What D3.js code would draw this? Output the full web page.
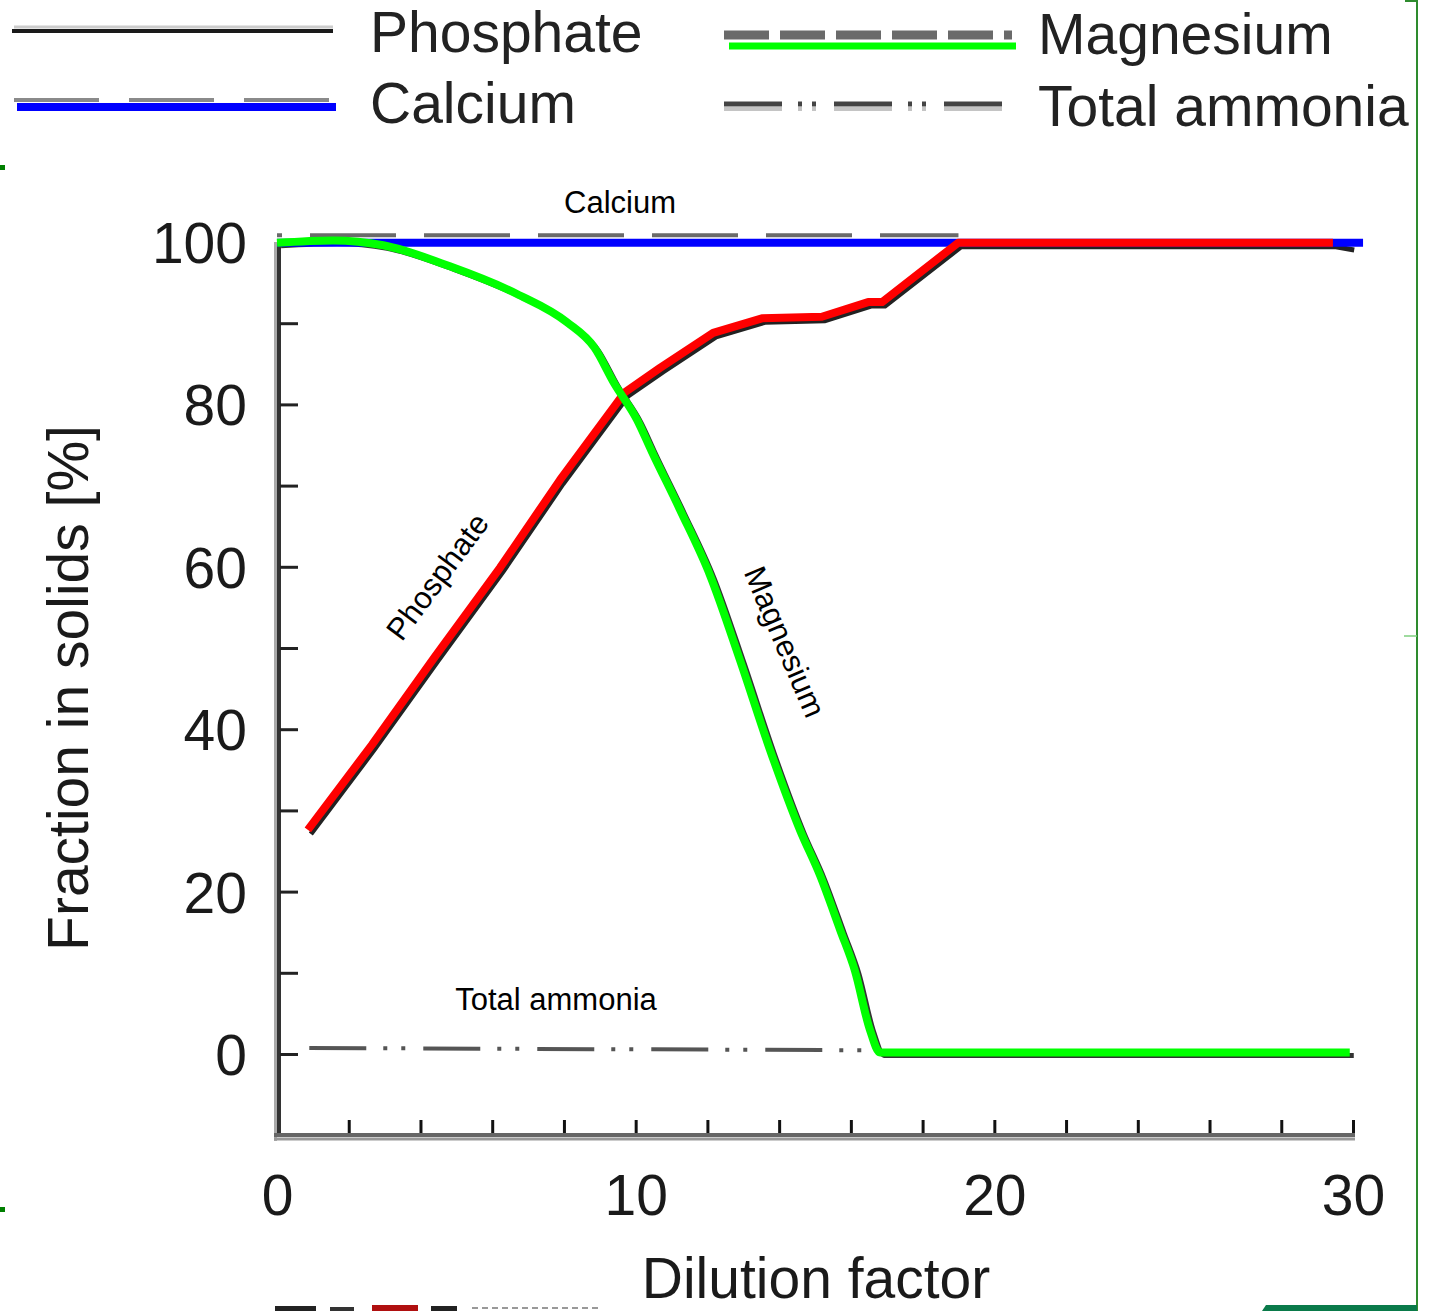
<!DOCTYPE html>
<html>
<head>
<meta charset="utf-8">
<script src="https://cdn.jsdelivr.net/npm/d3@7"></script>
<style>
  body { margin: 0; background: #fff; }
  svg { display: block; font-family: "Liberation Sans", Arial, sans-serif; }
</style>
</head>
<body>
<svg id="chart" width="1438" height="1311"></svg>
<script>
// dilution factor vs fraction in solids [%]
const phosphate = [[0.86, 27.6], [2.65, 38.1], [4.40, 48.9], [6.22, 59.9], [7.89, 70.7],
    [9.70, 81.5], [10.68, 84.5], [12.16, 88.8], [13.52, 90.6], [15.19, 90.8],
    [16.48, 92.6], [16.87, 92.6], [18.99, 99.9], [29.44, 99.9]]
const magnesium = [[0, 99.9], [1.56, 100.2], [2.96, 99.6], [4.82, 97.0], [6.69, 93.6],
    [8.09, 90.1], [8.85, 87.0], [9.40, 82.6], [10.04, 78.1], [10.45, 74.2],
    [11.24, 67.0], [12.07, 59.0], [12.91, 48.5], [13.75, 37.4], [14.58, 27.6],
    [15.14, 22.0], [15.70, 15.3], [16.11, 10.3], [16.53, 3.0], [16.81, 0.2], [29.91, 0.2]]
const calcium = [[0, 99.9], [30.28, 99.9]]
const calciumOrig = [[0, 100.6], [19.0, 100.6]]
const ammonia = [[0.9, 0.75], [16.8, 0.45]]

const xLabelTicks = [0, 10, 20, 30]
const yLabelTicks = [0, 20, 40, 60, 80, 100]

const legendItems = [
    { name: "Phosphate", col: 0, row: 0 },
    { name: "Calcium", col: 0, row: 1 },
    { name: "Magnesium", col: 1, row: 0 },
    { name: "Total ammonia", col: 1, row: 1 }
]

const svg = d3.select("#chart")

const x = d3.scaleLinear().domain([0, 30]).range([277, 1353])
const y = d3.scaleLinear().domain([-10, 100]).range([1135.2, 242])

const line = d3.line().x(d => x(d[0])).y(d => y(d[1]))
const smooth = d3.line().x(d => x(d[0])).y(d => y(d[1])).curve(d3.curveMonotoneX)

// ---- axes ----
// left axis: light stripe + dark line
svg.append("line").attr("x1", 275.5).attr("x2", 275.5).attr("y1", 242).attr("y2", 1141)
    .attr("stroke", "#aaa").attr("stroke-width", 3)
svg.append("line").attr("x1", 279).attr("x2", 279).attr("y1", 242).attr("y2", 1137)
    .attr("stroke", "#333").attr("stroke-width", 4)
// bottom axis
svg.append("line").attr("x1", 274).attr("x2", 1355).attr("y1", 1135).attr("y2", 1135)
    .attr("stroke", "#666").attr("stroke-width", 4)
svg.append("line").attr("x1", 274).attr("x2", 1355).attr("y1", 1139).attr("y2", 1139)
    .attr("stroke", "#999").attr("stroke-width", 3)

const yTicks = svg.append("g").attr("transform", "translate(280,0)")
    .call(d3.axisRight(y).tickValues(d3.range(0, 100, 10)).tickSize(18).tickFormat(""))
yTicks.select(".domain").remove()
yTicks.selectAll("line").attr("stroke", "#222").attr("stroke-width", 3)

const xTicks = svg.append("g").attr("transform", "translate(0,1133)")
    .call(d3.axisTop(x).tickValues(d3.range(2, 31, 2)).tickSize(13).tickFormat(""))
xTicks.select(".domain").remove()
xTicks.selectAll("line").attr("stroke", "#111").attr("stroke-width", 3)

const yLabels = svg.append("g").attr("transform", "translate(277,0)")
    .call(d3.axisLeft(y).tickValues(yLabelTicks).tickSize(0).tickPadding(30))
yLabels.select(".domain").remove()
yLabels.selectAll("text").attr("font-size", 57).attr("fill", "#1a1a1a")
    .attr("font-family", "Liberation Sans, Arial, sans-serif").attr("dy", "0.36em")

const xLabels = svg.append("g").attr("transform", "translate(0,1135)")
    .call(d3.axisBottom(x).tickValues(xLabelTicks).tickSize(0).tickPadding(40))
xLabels.select(".domain").remove()
xLabels.selectAll("text").attr("font-size", 57).attr("fill", "#1a1a1a")
    .attr("font-family", "Liberation Sans, Arial, sans-serif").attr("dy", "0.71em")

svg.append("text").attr("transform", "translate(88,688) rotate(-90)")
    .attr("text-anchor", "middle").attr("font-size", 57).attr("fill", "#1a1a1a")
    .text("Fraction in solids [%]")
svg.append("text").attr("x", 816).attr("y", 1298)
    .attr("text-anchor", "middle").attr("font-size", 57).attr("fill", "#1a1a1a")
    .text("Dilution factor")

// ---- original (grey) traces ----
svg.append("path").datum(calciumOrig).attr("d", line)
    .attr("fill", "none").attr("stroke", "#6a6a6a").attr("stroke-width", 4)
    .attr("stroke-dasharray", "86,28").attr("stroke-dashoffset", 81)
    .attr("transform", "translate(0,-2)")
svg.append("path").datum(ammonia).attr("d", line)
    .attr("fill", "none").attr("stroke", "#555").attr("stroke-width", 4)
    .attr("stroke-dasharray", "57,17,4,14,4,18")
svg.append("path").datum(phosphate.concat([[29.95, 99.5]])).attr("d", line)
    .attr("fill", "none").attr("stroke", "#222").attr("stroke-width", 5)
    .attr("transform", "translate(3,4)")
svg.append("path").datum(magnesium).attr("d", smooth)
    .attr("fill", "none").attr("stroke", "#333").attr("stroke-width", 5)
    .attr("transform", "translate(4,3)")

// ---- coloured traces ----
svg.append("path").datum(calcium).attr("d", line)
    .attr("fill", "none").attr("stroke", "#0000ff").attr("stroke-width", 8)
svg.append("path").datum(phosphate).attr("d", line)
    .attr("fill", "none").attr("stroke", "#ff0000").attr("stroke-width", 8)
    .attr("stroke-linejoin", "round")
svg.append("path").datum(magnesium).attr("d", smooth)
    .attr("fill", "none").attr("stroke", "#00ff00").attr("stroke-width", 8)

// ---- in-plot labels ----
svg.append("text").attr("x", 620).attr("y", 213).attr("text-anchor", "middle")
    .attr("font-size", 31).attr("fill", "#000").text("Calcium")
svg.append("text").attr("x", 556).attr("y", 1010).attr("text-anchor", "middle")
    .attr("font-size", 31).attr("fill", "#000").text("Total ammonia")
svg.append("text").attr("transform", "translate(446,583) rotate(-53.4)")
    .attr("text-anchor", "middle").attr("font-size", 31).attr("fill", "#000").text("Phosphate")
svg.append("text").attr("transform", "translate(775,646) rotate(66.8)")
    .attr("text-anchor", "middle").attr("font-size", 31).attr("fill", "#000").text("Magnesium")

// ---- legend ----
const legend = svg.append("g")
const textX = [370, 1038]
// phosphate: black solid, light line above
legend.append("line").attr("x1", 14).attr("x2", 333).attr("y1", 27).attr("y2", 27)
    .attr("stroke", "#ccc").attr("stroke-width", 3)
legend.append("line").attr("x1", 12).attr("x2", 333).attr("y1", 31).attr("y2", 31)
    .attr("stroke", "#1a1a1a").attr("stroke-width", 4)
// calcium: grey dashes over blue
legend.append("line").attr("x1", 14).attr("x2", 333).attr("y1", 100).attr("y2", 100)
    .attr("stroke", "#8a8a8a").attr("stroke-width", 4).attr("stroke-dasharray", "85,30")
legend.append("line").attr("x1", 17).attr("x2", 336).attr("y1", 107).attr("y2", 107)
    .attr("stroke", "#0000ff").attr("stroke-width", 8)
// magnesium: grey dashes over green
legend.append("line").attr("x1", 724).attr("x2", 1012).attr("y1", 35).attr("y2", 35)
    .attr("stroke", "#6a6a6a").attr("stroke-width", 9).attr("stroke-dasharray", "45,11")
legend.append("line").attr("x1", 729).attr("x2", 1016).attr("y1", 46).attr("y2", 46)
    .attr("stroke", "#00ff00").attr("stroke-width", 7)
// total ammonia: dash-dot-dot
legend.append("line").attr("x1", 724).attr("x2", 1010).attr("y1", 104).attr("y2", 104)
    .attr("stroke", "#444").attr("stroke-width", 5).attr("stroke-dasharray", "58,16,4,10,4,18")
legend.append("line").attr("x1", 724).attr("x2", 1010).attr("y1", 109).attr("y2", 109)
    .attr("stroke", "#c4c4c4").attr("stroke-width", 4).attr("stroke-dasharray", "58,16,4,10,4,18")

legend.selectAll("text.leg").data(legendItems).enter().append("text")
    .attr("class", "leg")
    .attr("x", d => textX[d.col])
    .attr("y", d => d.row === 0 ? (d.col === 0 ? 52 : 54) : (d.col === 0 ? 123 : 126))
    .attr("font-size", 57).attr("fill", "#222")
    .text(d => d.name)

// ---- frame remnants ----
svg.append("line").attr("x1", 1417).attr("x2", 1417).attr("y1", 0).attr("y2", 1311)
    .attr("stroke", "#2e8b2e").attr("stroke-width", 2)
svg.append("line").attr("x1", 1405).attr("x2", 1417).attr("y1", 1).attr("y2", 1)
    .attr("stroke", "#2e8b2e").attr("stroke-width", 2)
svg.append("line").attr("x1", 1404).attr("x2", 1417).attr("y1", 636).attr("y2", 636)
    .attr("stroke", "#7fcf7f").attr("stroke-width", 1.5)
svg.append("rect").attr("x", 0).attr("y", 165).attr("width", 5).attr("height", 5).attr("fill", "#007f00")
svg.append("rect").attr("x", 0).attr("y", 1207).attr("width", 5).attr("height", 5).attr("fill", "#007f00")
svg.append("path").attr("d", "M1262,1311 L1266,1305 L1417,1305 L1417,1311 Z").attr("fill", "#0a7a4a")

// cropped legend glyphs at the bottom edge
const crop = svg.append("g")
crop.append("rect").attr("x", 275).attr("y", 1306).attr("width", 41).attr("height", 5).attr("fill", "#222")
crop.append("rect").attr("x", 330).attr("y", 1307).attr("width", 24).attr("height", 4).attr("fill", "#333")
crop.append("rect").attr("x", 372).attr("y", 1305).attr("width", 46).attr("height", 6).attr("fill", "#b01010")
crop.append("rect").attr("x", 431).attr("y", 1306).attr("width", 26).attr("height", 5).attr("fill", "#222")
crop.append("line").attr("x1", 472).attr("x2", 600).attr("y1", 1308).attr("y2", 1308)
    .attr("stroke", "#999").attr("stroke-width", 2).attr("stroke-dasharray", "6,4")
</script>
</body>
</html>
